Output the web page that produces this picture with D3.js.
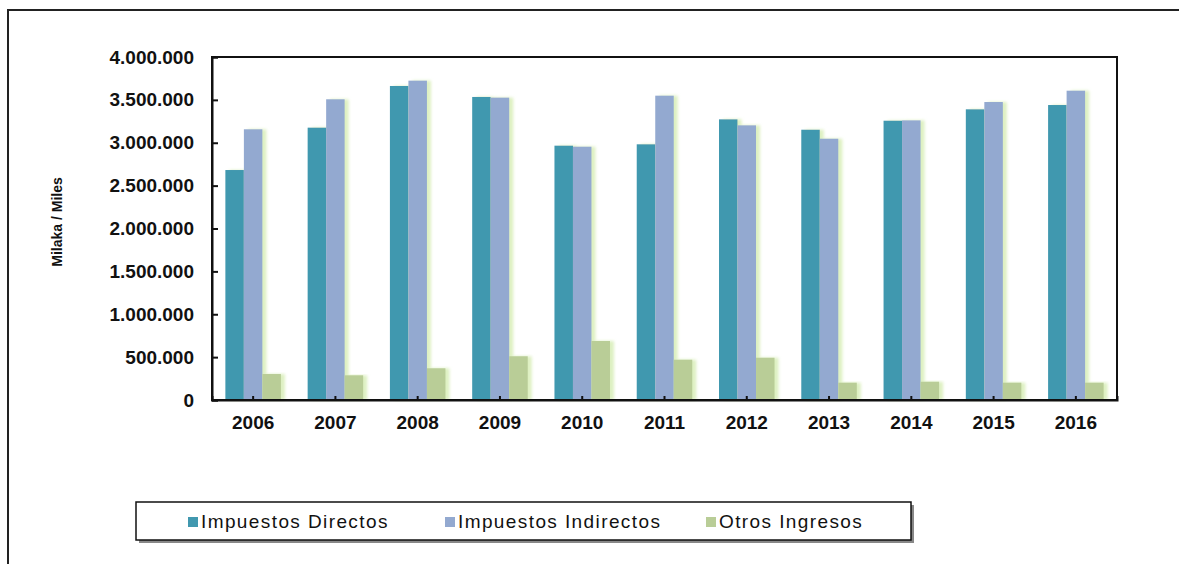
<!DOCTYPE html>
<html><head><meta charset="utf-8">
<script src="https://cdn.jsdelivr.net/npm/d3@7"></script>
<style>body{margin:0;background:#fff;}svg{display:block;font-family:"Liberation Sans",Arial,sans-serif;}</style>
</head><body>
<svg id="c" width="1179" height="564"></svg>
<script>
const years = ["2006","2007","2008","2009","2010","2011","2012","2013","2014","2015","2016"];
const seriesNames = ["Impuestos Directos","Impuestos Indirectos","Otros Ingresos"];
const directos   = [2682000,3176000,3662000,3534000,2966000,2982000,3273000,3152000,3257000,3390000,3440000];
const indirectos = [3157000,3507000,3724000,3526000,2954000,3549000,3203000,3047000,3261000,3475000,3607000];
const otros      = [303000,288000,370000,510000,688000,470000,493000,202000,213000,202000,202000];
const yTicks = [0,500000,1000000,1500000,2000000,2500000,3000000,3500000,4000000];
const colors = ["#4198af","#93a9d0","#b9cd97"];
const yTitle = "Milaka / Miles";

const svg = d3.select("#c");
const L=212,R=1117,T=57,B=400;
const defs = svg.append("defs");
const f = defs.append("filter").attr("id","sh").attr("x","-20%").attr("y","-5%").attr("width","160%").attr("height","110%");
f.append("feDropShadow").attr("dx",4).attr("dy",0).attr("stdDeviation",1.8).attr("flood-color","#cfeaa8").attr("flood-opacity",0.7);

// outer frame
svg.append("path").attr("d","M8,1200V10H1200").attr("fill","none").attr("stroke","#222").attr("stroke-width",2);

const loc = d3.formatLocale({decimal:",",thousands:".",grouping:[3],currency:["",""]});
const fmt = loc.format(",d");

const x0 = d3.scaleBand().domain(years).range([L,R]).padding(0);
const groupW = x0.bandwidth()*0.675;
const x1 = d3.scaleBand().domain(seriesNames).range([0,groupW]).padding(0);
const y = d3.scaleLinear().domain([0,4000000]).range([B,T]);

const data = [directos,indirectos,otros];
const g = svg.append("g");
years.forEach((yr,i)=>{
  const gx = x0(yr)+(x0.bandwidth()-groupW)/2;
  seriesNames.forEach((s,j)=>{
    g.append("rect").attr("x",gx+x1(s)).attr("y",y(data[j][i]))
      .attr("width",x1.bandwidth()).attr("height",B-y(data[j][i]))
      .attr("fill",colors[j]).attr("filter","url(#sh)");
  });
});

// plot frame
svg.append("rect").attr("x",L).attr("y",T).attr("width",R-L).attr("height",B-T)
  .attr("fill","none").attr("stroke","#111").attr("stroke-width",2);

const ya = svg.append("g").attr("transform",`translate(${L},0)`)
  .call(d3.axisLeft(y).tickValues(yTicks).tickFormat(fmt).tickSize(-6).tickPadding(18));
ya.select(".domain").attr("stroke","#111").attr("stroke-width",2);
ya.selectAll(".tick line").attr("stroke","#111").attr("stroke-width",2);
ya.selectAll("text").attr("font-size",19).attr("font-weight","bold").attr("fill","#111")
  .attr("font-family","Liberation Sans, Arial, sans-serif");

const xa = svg.append("g").attr("transform",`translate(0,${B})`)
  .call(d3.axisBottom(x0).tickSize(-4).tickPadding(16));
xa.select(".domain").attr("stroke","#111").attr("stroke-width",2);
xa.selectAll(".tick line").attr("stroke","#111").attr("stroke-width",2);
xa.selectAll("text").attr("font-size",19).attr("font-weight","bold").attr("fill","#111")
  .attr("font-family","Liberation Sans, Arial, sans-serif");

svg.append("text").attr("transform","translate(62,222) rotate(-90)")
  .attr("text-anchor","middle").attr("font-size",14).attr("font-weight","bold").attr("fill","#111")
  .text(yTitle);

// legend
const lg = svg.append("g");
lg.append("rect").attr("x",139).attr("y",505).attr("width",775).attr("height",38).attr("fill","#888");
lg.append("rect").attr("x",136).attr("y",502).attr("width",775).attr("height",38).attr("fill","#fff").attr("stroke","#111").attr("stroke-width",1.5);
const lx = [188,445,706];
seriesNames.forEach((s,j)=>{
  lg.append("rect").attr("x",lx[j]).attr("y",517).attr("width",10).attr("height",10).attr("fill",colors[j]);
  lg.append("text").attr("x",lx[j]+13).attr("y",528).attr("font-size",19).attr("letter-spacing",1.4)
    .attr("fill","#111").text(s);
});
</script>
</body></html>
